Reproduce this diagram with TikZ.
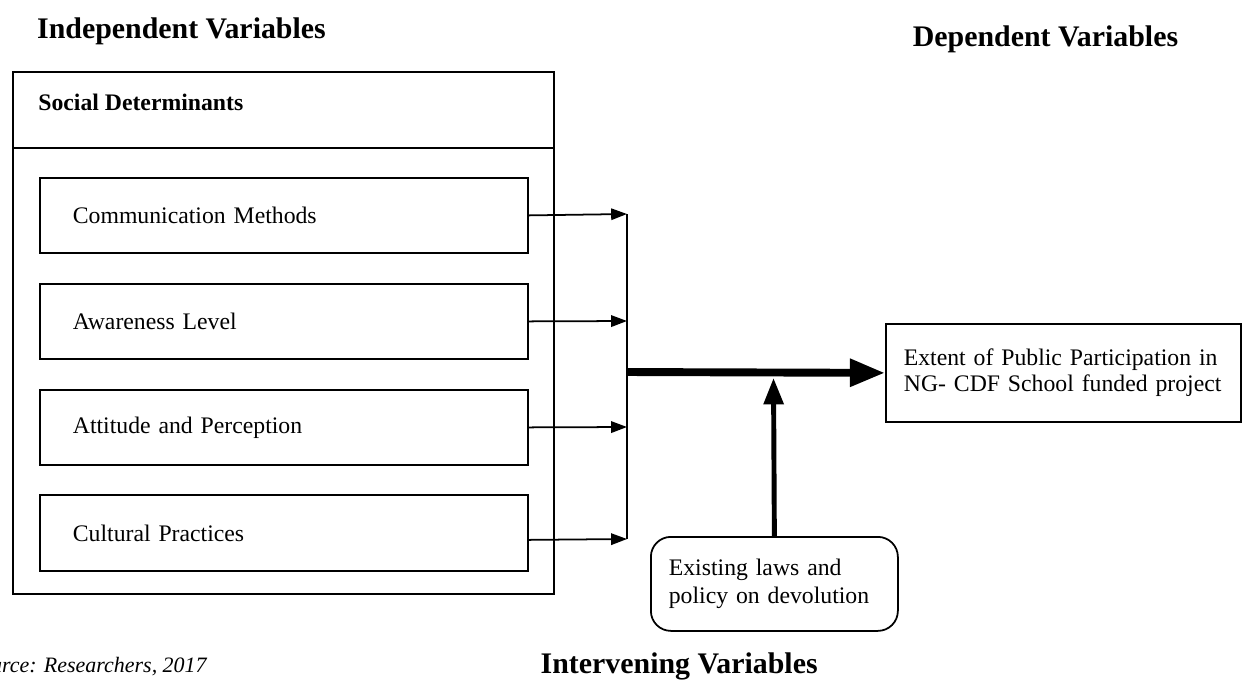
\documentclass[tikz,border=0pt]{standalone}
\usepackage{fontspec}
\setmainfont{Liberation Serif}
\usetikzlibrary{arrows.meta}

\begin{document}
\begin{tikzpicture}
  [title/.style={font=\fontsize{17}{20}\selectfont\bfseries, anchor=base},
  factor/.style={draw, line width=1pt, anchor=north west, minimum height=1.5cm,
    inner xsep=0.66cm, text width=8.44cm, align=left,
    font=\fontsize{13.5}{16}\selectfont},
  link/.style={line width=1pt, -{Triangle[length=9pt,width=6.5pt]}}]
  \useasboundingbox (0,0) rectangle (24.96,-13.64);

  % headings
  \node[title] (indep) at (3.63,-0.76) {Independent Variables};
  \node[title] (dep) at (20.91,-0.92) {Dependent Variables};
  \node[title, anchor=base east, inner sep=0pt] (interv) at (16.36,-13.46) {Intervening Variables};
  \node[anchor=base east, inner sep=0pt, font=\fontsize{12.5}{14}\selectfont\itshape] (source)
    at (4.14,-13.44) {Source: Researchers, 2017};

  % social determinants
  \node[draw, line width=1pt, anchor=north west, minimum width=10.82cm,
    minimum height=10.44cm] (group) at (0.24,-1.42) {};
  \node[draw, line width=1pt, anchor=north west, minimum width=10.82cm,
    minimum height=1.52cm] (head) at (0.24,-1.42) {};
  \node[anchor=base west, inner sep=0pt, font=\fontsize{13.5}{16}\selectfont\bfseries]
    (headtext) at (0.76,-2.2) {Social Determinants};

  \node[factor] (comm) at (0.78,-3.54) {Communication Methods};
  \node[factor] (aware) at (0.78,-5.66) {Awareness Level};
  \node[factor] (attit) at (0.78,-7.78) {Attitude and Perception};
  \node[factor, minimum height=1.52cm] (cult) at (0.78,-9.88) {Cultural Practices};

  % outcome and intervening
  \node[draw, line width=1pt, anchor=north west, minimum height=1.96cm,
    inner xsep=0.36cm, text width=6.38cm, align=left,
    font=\fontsize{13.5}{14.5}\selectfont] (extent) at (17.7,-6.46)
    {Extent of Public Participation in\\NG- CDF School funded project};
  \node[draw, line width=1pt, rounded corners=0.4cm, anchor=north west,
    minimum height=1.88cm, inner xsep=0.36cm, text width=4.22cm, align=left,
    font=\fontsize{13.5}{16}\selectfont] (laws) at (13.0,-10.72)
    {Existing laws and\\policy on devolution};

  % connectors
  \coordinate (c1) at (12.54,-4.28);
  \coordinate (c2) at (12.54,-6.42);
  \coordinate (c3) at (12.54,-8.54);
  \coordinate (c4) at (12.54,-10.78);
  \coordinate (mid) at (12.54,-7.44);
  \coordinate (meet) at (15.47,-7.56);

  \draw[link] (comm.east) -- (c1);
  \draw[link] (aware.east) -- (c2);
  \draw[link] (attit.east) -- (c3);
  \draw[link] ([yshift=-0.14cm]cult.east) -- (c4);
  \draw[line width=1pt] (c1) -- (c4);
  \draw[line width=4.5pt, -{Triangle[length=20pt,width=15pt]}] (mid) -- (extent.west);
  \draw[line width=2.8pt, -{Triangle[length=15pt,width=11pt]}] (laws.north) -- (meet);
\end{tikzpicture}
\end{document}
